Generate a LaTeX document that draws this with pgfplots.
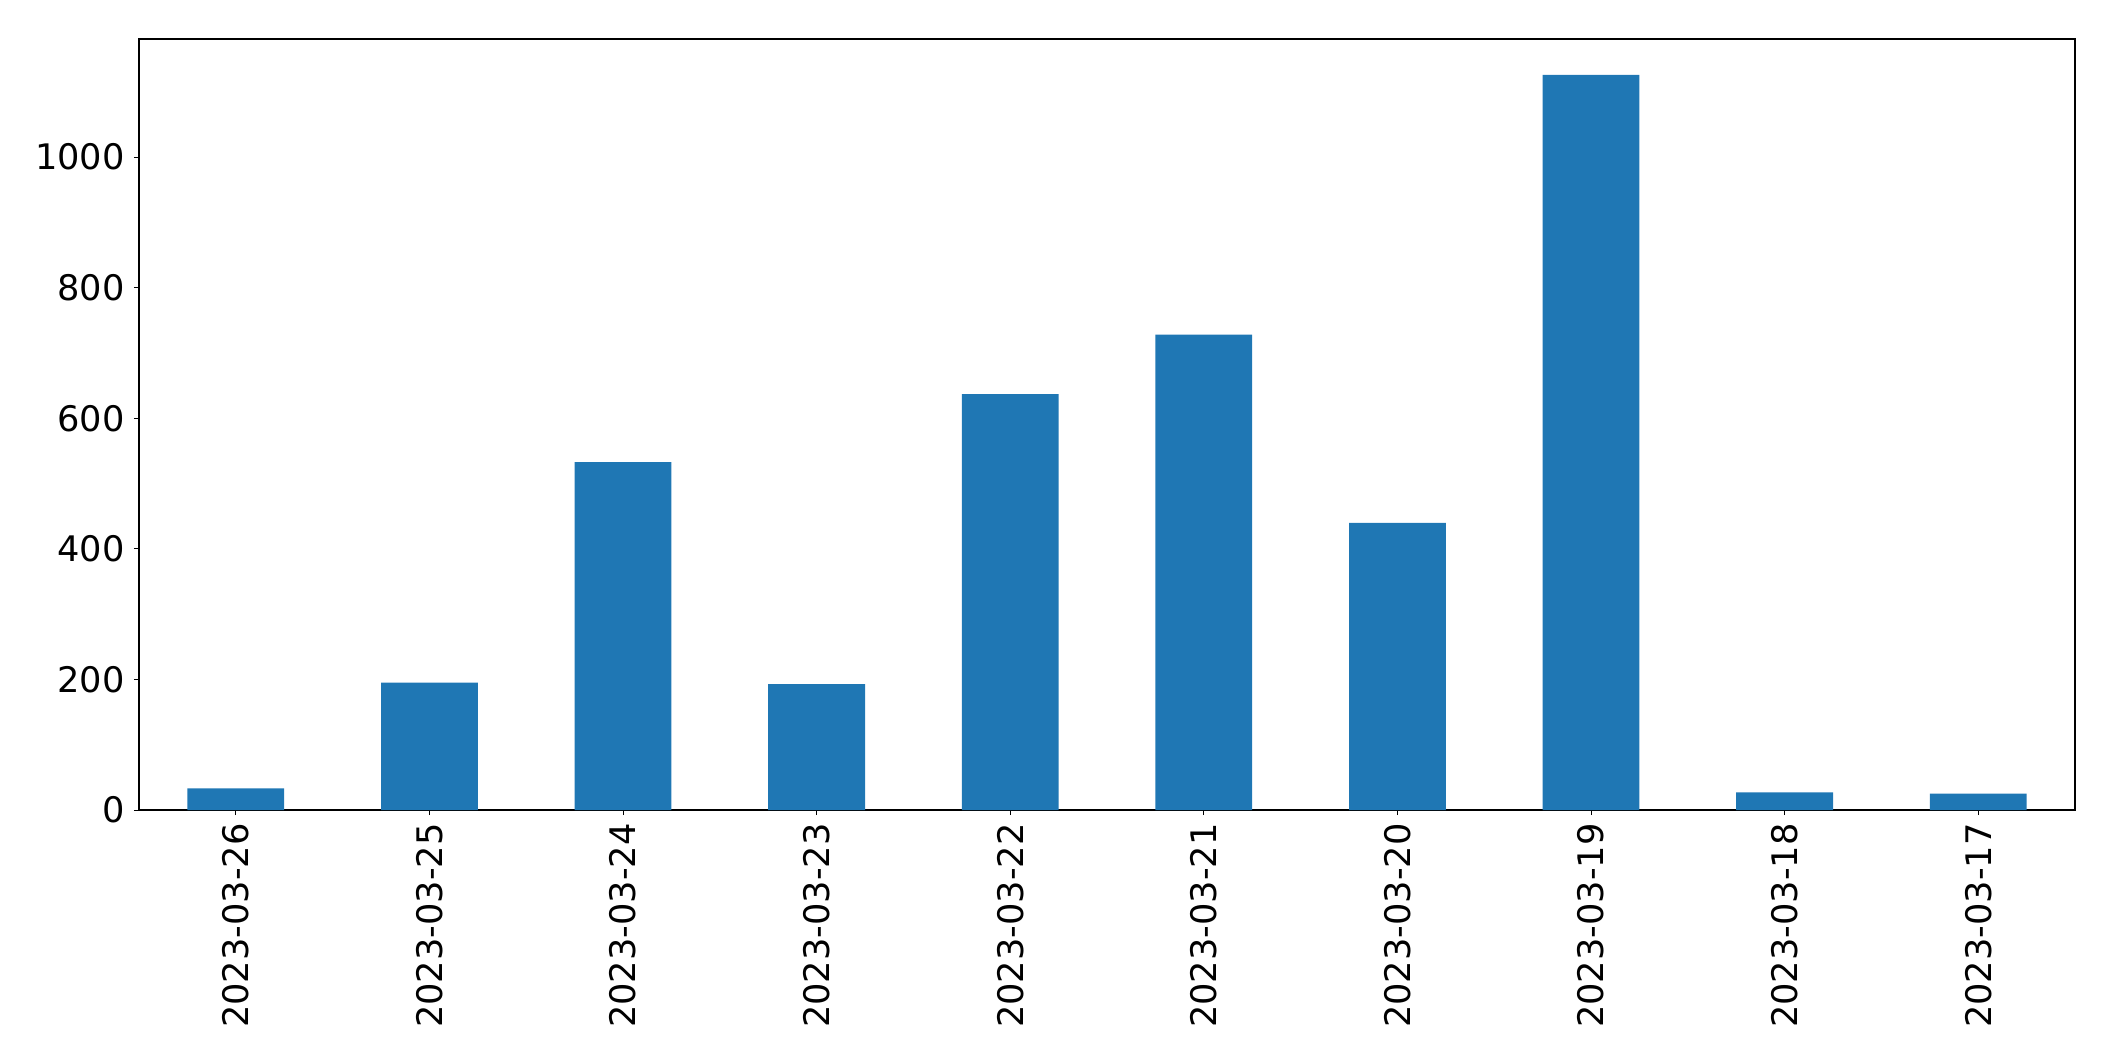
\documentclass[border=0pt]{standalone}
\usepackage{pgfplots}
\pgfplotsset{compat=1.18}
\usepackage{fontspec}
\setmainfont{DejaVu Sans}
\definecolor{mplblue}{HTML}{1F77B4}
\begin{document}
\begin{tikzpicture}
\useasboundingbox (0,0) rectangle (1057.5pt,530.5pt);
\begin{axis}[
  at={(69.5pt,125.5pt)}, anchor=south west,
  scale only axis, width=968pt, height=385.5pt,
  xmin=-0.5, xmax=9.5, ymin=0, ymax=1181,
  xtick={0,...,9},
  xticklabels={2023-03-26,2023-03-25,2023-03-24,2023-03-23,2023-03-22,2023-03-21,2023-03-20,2023-03-19,2023-03-18,2023-03-17},
  ytick={0,200,400,600,800,1000},
  /pgf/number format/assume math mode=true,
  /pgf/number format/1000 sep={},
  tick label style={font=\fontsize{17.6}{20}\selectfont},
  xticklabel style={rotate=90, anchor=east, inner sep=0pt},
  yticklabel style={inner sep=0pt, xshift=-4.5pt},
  xticklabel shift=4pt,
  tick align=outside, tick pos=left,
  major tick length=2.5pt,
  tick style={black, line width=0.5pt},
  axis line style={line width=0.55pt},
  ybar, bar width=0.5,
]
\addplot[fill=mplblue, draw=none] coordinates {
(0,33) (1,195) (2,533) (3,193) (4,637) (5,728) (6,440) (7,1126) (8,27) (9,25)};
\end{axis}
\end{tikzpicture}
\end{document}
